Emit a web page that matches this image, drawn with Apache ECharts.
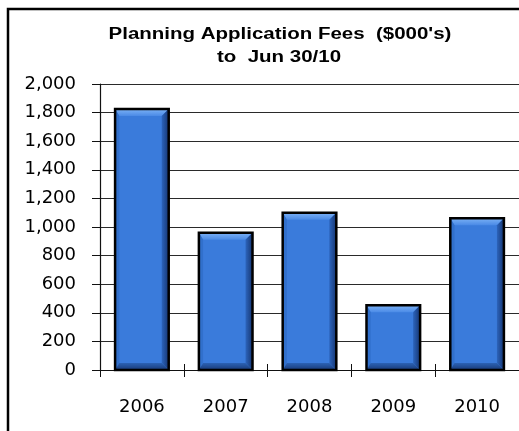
<!DOCTYPE html>
<html>
<head>
<meta charset="utf-8">
<script src="https://cdn.jsdelivr.net/npm/echarts@6/dist/echarts.min.js"></script>
<style>
  html, body { margin: 0; padding: 0; background: #fff; }
  #chart { width: 519px; height: 431px; }
</style>
</head>
<body>
<div id="chart"></div>
<script>
// Planning application fees by year, in thousands of dollars
const years = ['2006', '2007', '2008', '2009', '2010'];
const fees = [1825, 960, 1100, 452, 1062];
const titleLines = ["Planning Application Fees  ($000's)", 'to  Jun 30/10'];
const yTicks = { min: 0, max: 2000, step: 200 };

const chart = echarts.init(document.getElementById('chart'), null, { renderer: 'canvas' });

// Bevelled bar: flat face, light top edge, shaded right and bottom edges, black outline
function renderBevelBar(params, api) {
  const idx = api.value(0);
  const val = api.value(1);
  const base = api.coord([idx, 0]);
  const top = api.coord([idx, val]);
  const w = api.size([1, 0])[0] * 0.64;
  const L = base[0] - w / 2, R = base[0] + w / 2;
  const T = top[1], B = base[1];
  const b = Math.min(7, (B - T) / 3);
  const grad = (x1, y1, x2, y2, c1, c2) => new echarts.graphic.LinearGradient(x1, y1, x2, y2, [
    { offset: 0, color: c1 }, { offset: 1, color: c2 }
  ]);
  return {
    type: 'group',
    children: [
      { type: 'rect', shape: { x: L, y: T, width: R - L, height: B - T },
        style: { fill: '#3a7bdb' } },
      { type: 'polygon', shape: { points: [[L, T], [R, T], [R - b, T + b], [L + b * 0.6, T + b]] },
        style: { fill: grad(0, 0, 0, 1, '#7cb2f6', '#4a8ae6') } },
      { type: 'polygon', shape: { points: [[L, T], [L + b * 0.6, T + b], [L + b * 0.6, B - b], [L, B]] },
        style: { fill: '#3170cc' } },
      { type: 'polygon', shape: { points: [[R, T], [R, B], [R - b, B - b], [R - b, T + b]] },
        style: { fill: grad(0, 0, 1, 0, '#2c64bc', '#163672') } },
      { type: 'polygon', shape: { points: [[L, B], [R, B], [R - b, B - b], [L + b * 0.6, B - b]] },
        style: { fill: grad(0, 0, 0, 1, '#2c62b4', '#183a78') } },
      { type: 'rect', shape: { x: L, y: T, width: R - L, height: B - T },
        style: { fill: null, stroke: '#000', lineWidth: 2.5 } }
    ]
  };
}

const labelFont = { fontFamily: 'DejaVu Sans', fontSize: 18, color: '#000' };

chart.setOption({
  backgroundColor: '#fff',
  animation: false,
  grid: { left: 100, right: -3, top: 84, bottom: 61, containLabel: false },
  xAxis: [
    {
      type: 'category',
      data: years,
      boundaryGap: true,
      axisLine: { show: true, lineStyle: { color: '#111', width: 1.2 } },
      axisTick: { show: true, length: 7, lineStyle: { color: '#111', width: 1 } },
      axisLabel: Object.assign({ margin: 28 }, labelFont),
      splitLine: { show: false }
    },
    {
      type: 'category',
      data: years,
      position: 'bottom',
      boundaryGap: true,
      axisLine: { show: false },
      axisTick: { show: true, inside: true, length: 6, lineStyle: { color: '#111', width: 1 } },
      axisLabel: { show: false },
      splitLine: { show: false }
    }
  ],
  yAxis: {
    type: 'value',
    min: yTicks.min,
    max: yTicks.max,
    interval: yTicks.step,
    axisLine: { show: true, lineStyle: { color: '#111', width: 1.2 } },
    axisTick: { show: true, length: 8, lineStyle: { color: '#111', width: 1 } },
    axisLabel: Object.assign({
      margin: 24,
      formatter: v => v.toLocaleString('en-US')
    }, labelFont),
    splitLine: { show: true, lineStyle: { color: '#2a2a2a', width: 1 } }
  },
  series: [
    {
      type: 'custom',
      renderItem: renderBevelBar,
      encode: { x: 0, y: 1 },
      data: fees.map((v, i) => [i, v]),
      z: 3
    },
    { type: 'bar', xAxisIndex: 1, data: [], silent: true }
  ],
  graphic: [
    { type: 'rect', shape: { x: 8, y: 9, width: 620, height: 620 },
      style: { fill: null, stroke: '#000', lineWidth: 2.5 }, z: 10 },
    { type: 'text', x: 280, y: 35, scaleX: 1.28,
      style: { text: titleLines[0], fontFamily: 'Liberation Sans', fontWeight: 'bold', fontSize: 16,
               fill: '#000', align: 'center', verticalAlign: 'middle' } },
    { type: 'text', x: 279, y: 58, scaleX: 1.28,
      style: { text: titleLines[1], fontFamily: 'Liberation Sans', fontWeight: 'bold', fontSize: 16,
               fill: '#000', align: 'center', verticalAlign: 'middle' } }
  ]
});
</script>
</body>
</html>
